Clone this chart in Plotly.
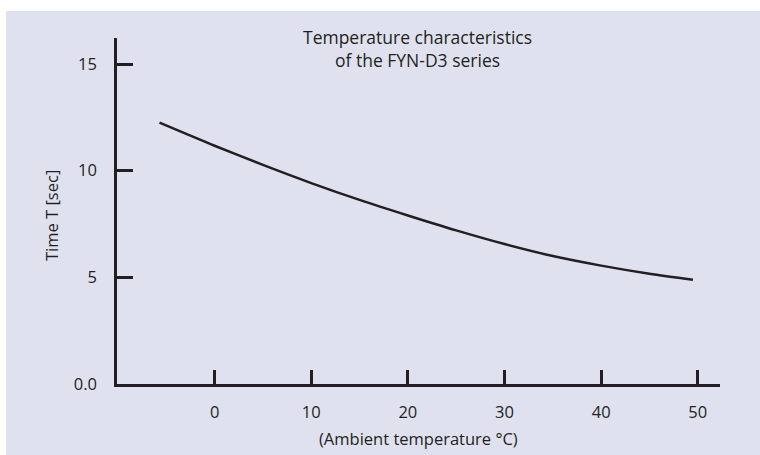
import plotly.graph_objects as go

# Data
ambient_temp = [-5.7, 0, 5, 10, 15, 20, 25, 30, 35, 40, 45, 49.5]
time_t = [12.25, 11.17, 10.27, 9.42, 8.63, 7.9, 7.2, 6.56, 6.0, 5.55, 5.17, 4.89]

x_tick_vals = [0, 10, 20, 30, 40, 50]
x_tick_text = ["0", "10", "20", "30", "40", "50"]
y_tick_vals = [0, 5, 10, 15]
y_tick_text = ["0.0", "5", "10", "15"]

INK = "#231f20"
BG = "#dfe2ee"
FONT = "Open Sans"
FS = 16.5

fig = go.Figure()
fig.add_trace(go.Scatter(
    x=ambient_temp, y=time_t, mode="lines",
    line=dict(color=INK, width=2.5, shape="spline", smoothing=0.8),
    hoverinfo="skip", showlegend=False,
))

fig.update_layout(
    width=760, height=455,
    margin=dict(l=117, r=40, t=38, b=71),
    paper_bgcolor="white",
    plot_bgcolor=BG,
    font=dict(family=FONT, size=FS, color=INK),
    shapes=[dict(type="rect", xref="paper", yref="paper",
                 x0=-111/603, x1=1 + 40/603, y0=-71/346, y1=1 + 27/346,
                 fillcolor=BG, line=dict(width=0), layer="below")],
    xaxis=dict(
        range=[-10.1, 52.3], showgrid=False, zeroline=False,
        showline=True, linecolor=INK, linewidth=2.5,
        ticks="inside", ticklen=14, tickwidth=2.5, tickcolor=INK,
        tickvals=x_tick_vals, ticktext=x_tick_text,
        ticklabelstandoff=11,
    ),
    yaxis=dict(
        range=[0, 16.22], showgrid=False, zeroline=False,
        showline=True, linecolor=INK, linewidth=2.5,
        ticks="inside", ticklen=16, tickwidth=2.5, tickcolor=INK,
        tickvals=y_tick_vals, ticktext=y_tick_text,
        ticklabelstandoff=14,
    ),
    annotations=[
        dict(text="Temperature characteristics<br>of the FYN-D3 series",
             xref="paper", yref="paper", x=(417 - 117) / 603, y=1 + (38 - 48) / 346,
             xanchor="center", yanchor="middle", showarrow=False,
             font=dict(family=FONT, size=17.5, color=INK)),
        dict(text="Time T [sec]", textangle=-90,
             xref="paper", yref="paper", x=(51 - 117) / 603, y=(384 - 216) / 346,
             xanchor="center", yanchor="middle", showarrow=False,
             font=dict(family=FONT, size=FS, color=INK)),
        dict(text="(Ambient temperature °C)",
             xref="paper", yref="paper", x=(418 - 117) / 603, y=(384 - 438) / 346,
             xanchor="center", yanchor="middle", showarrow=False,
             font=dict(family=FONT, size=FS, color=INK)),
    ],
)

fig.write_html("out.html", config={"displayModeBar": False},
               post_script="document.body.style.margin='0px';")
